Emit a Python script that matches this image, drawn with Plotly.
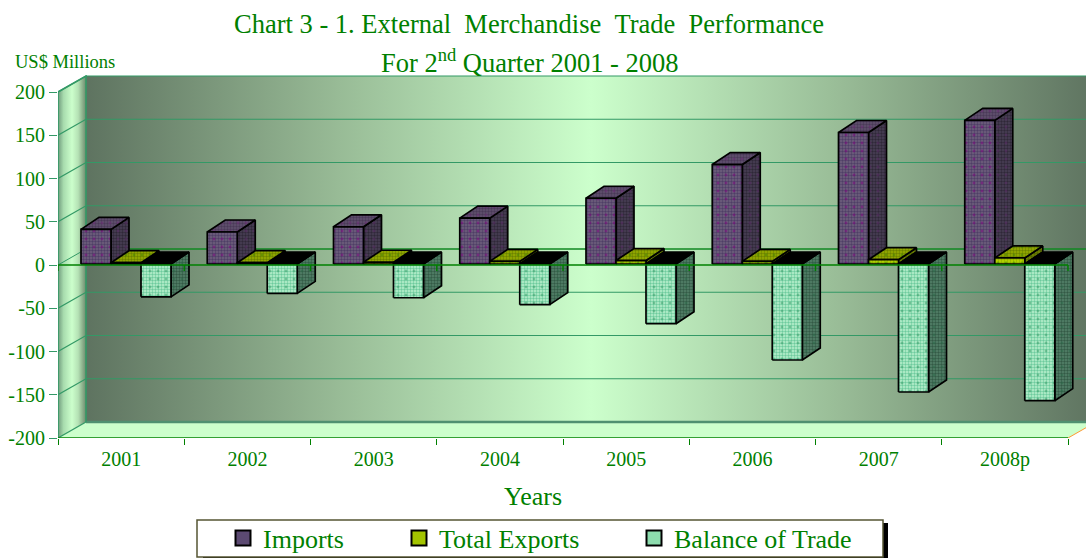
import plotly.graph_objects as go

# ---------- data ----------
years = ["2001", "2002", "2003", "2004", "2005", "2006", "2007", "2008p"]
imports = [40, 37, 43, 53, 76, 115, 152, 166]
total_exports = [1.5, 1.5, 2, 3, 4, 3, 5, 7]
balance = [-38, -34, -39, -47, -69, -111, -148, -158]
y_ticks = [-200, -150, -100, -50, 0, 50, 100, 150, 200]

# ---------- page geometry ----------
W, H = 1086, 558
LEFT, BOTTOM_PX, TOP_PX = 58, 438, 75
PX_PER_CAT = 126.25
PX_PER_UNIT = 0.865
XMAX = (W - LEFT) / PX_PER_CAT
YMAX = -200 + (BOTTOM_PX - TOP_PX) / PX_PER_UNIT
n = len(years)
PLOT_W, PLOT_H = W - LEFT, BOTTOM_PX - TOP_PX

def dx(px):
    return px / PX_PER_CAT

def dy(px):
    return px / PX_PER_UNIT

def paper_x(px):
    return (px - LEFT) / PLOT_W

def paper_y(py):
    return (BOTTOM_PX - py) / PLOT_H

WALL_DX, WALL_DY = dx(28), dy(16)
BAR_DX, BAR_DY = dx(18), dy(12)
BAR_W, BAR_OFF = dx(30), dx(23)
LIFT = dy(1)

GREEN = "#008000"
GRID = "#339966"

fig = go.Figure()

def poly(xs, ys, fill=None, line=None, lw=0, **kw):
    fig.add_trace(go.Scatter(
        x=list(xs) + [xs[0]], y=list(ys) + [ys[0]], mode="lines", fill="toself",
        fillcolor=fill if fill else "rgba(0,0,0,0)",
        line=dict(color=line or "rgba(0,0,0,0)", width=lw),
        hoverinfo="skip", showlegend=False, cliponaxis=False, **kw))

def seg(xs, ys, color, width):
    fig.add_trace(go.Scatter(x=xs, y=ys, mode="lines", line=dict(color=color, width=width),
                             hoverinfo="skip", showlegend=False, cliponaxis=False))

# ---------- walls ----------
dark = "#5e7360"
poly([WALL_DX, 8 + WALL_DX, 8 + WALL_DX, WALL_DX],
     [-200 + WALL_DY, -200 + WALL_DY, 200 + WALL_DY, 200 + WALL_DY],
     fillgradient=dict(type="horizontal",
                       colorscale=[[0, dark], [0.25, "#98bb96"], [0.5, "#ccffcc"], [0.75, "#98bb96"], [1, dark]]))
poly([0, WALL_DX, WALL_DX, 0], [-200, -200 + WALL_DY, 200 + WALL_DY, 200],
     fillgradient=dict(type="horizontal",
                       colorscale=[[0, "#6f9a7c"], [0.2, "#a8dcae"], [0.5, "#ccffcc"], [0.72, "#b5e2b5"], [1, "#6c8a6c"]]))
poly([0, 8, 8 + WALL_DX, WALL_DX], [-200, -200, -200 + WALL_DY, -200 + WALL_DY], fill="#ccffcc")

# gridlines on the side wall and back wall
for v in y_ticks:
    if v == 0:
        seg([0, WALL_DX, 8 + WALL_DX], [v, v + WALL_DY, v + WALL_DY], GRID, 1)
        seg([WALL_DX, 8 + WALL_DX], [v + WALL_DY, v + WALL_DY], GREEN, 1.2)
    elif v == -200:
        seg([0, WALL_DX], [v, v + WALL_DY], GRID, 1.2)
        seg([WALL_DX, 8 + WALL_DX], [v + WALL_DY, v + WALL_DY], "#4f9070", 2.5)
    else:
        seg([0, WALL_DX, 8 + WALL_DX], [v, v + WALL_DY, v + WALL_DY], GRID, 1.2)
seg([0, 0, WALL_DX, WALL_DX, WALL_DX], [-200, 200, 200 + WALL_DY, -200 + WALL_DY, 200 + WALL_DY], GRID, 1.6)
seg([8, 8 + WALL_DX], [-200, -200 + WALL_DY], "#ff9933", 1)

# ---------- 3-D columns ----------
def face(xs, ys, style):
    bg, dither, spot = style
    poly(xs, ys, fillpattern=dict(shape=".", bgcolor=bg, fgcolor=dither, size=3, solidity=0.5, fillmode="replace"))
    if spot:
        poly(xs, ys, line="#000000", lw=1.7,
             fillpattern=dict(shape=".", bgcolor="rgba(0,0,0,0)", fgcolor=spot, size=8, solidity=0.1, fillmode="overlay"))
    else:
        poly(xs, ys, line="#000000", lw=1.7)

STYLES = {
    "imports": dict(front=("#70617e", "#4f3f66", "#800080"),
                    top=("#625270", "#4a3a58", "#6d2a78"),
                    side=("#4a4056", "#2f2838", "#5a2a66")),
    "exports": dict(front=("#c0dc00", "#8fae00", "#3f8a00"),
                    top=("#99b000", "#6d8200", "#3f8000"),
                    side=("#748800", "#4f6000", "#3a6c00")),
    "balance": dict(front=("#bdf2d0", "#6ecb9e", "#339966"),
                    top=("#000000", "#000000", None),
                    side=("#55836b", "#345a46", "#2a6a48")),
}

def column(x0, v, style):
    x1 = x0 + BAR_W
    base = LIFT
    tip = v + LIFT
    lo, hi = min(base, tip), max(base, tip)
    face([x1, x1 + BAR_DX, x1 + BAR_DX, x1], [lo, lo + BAR_DY, hi + BAR_DY, hi], style["side"])
    face([x0, x1, x1 + BAR_DX, x0 + BAR_DX], [hi, hi, hi + BAR_DY, hi + BAR_DY], style["top"])
    face([x0, x1, x1, x0], [lo, lo, hi, hi], style["front"])

for i in range(n):
    x0 = i + BAR_OFF
    column(x0, imports[i], STYLES["imports"])
    column(x0 + BAR_W, total_exports[i], STYLES["exports"])
    column(x0 + 2 * BAR_W, balance[i], STYLES["balance"])

# ---------- front axis lines ----------
zero_x, zero_y = [0, 8, None], [0, 0, None]
for c in range(n + 1):
    zero_x += [c, c, None]
    zero_y += [0, -dy(6), None]
seg(zero_x, zero_y, GREEN, 1.4)
seg([0, 8], [-200, -200], GREEN, 1.6)

# ---------- legend swatches ----------
legend_items = ["Imports", "Total Exports", "Balance of Trade"]
swatch_fill = ["#5c4a72", "#a3c400", "#8ddcae"]
legend_names = ["legend", "legend2", "legend3"]
for name, col, lg in zip(legend_items, swatch_fill, legend_names):
    fig.add_trace(go.Scatter(x=[None], y=[None], mode="markers", name=name, legend=lg,
                             marker=dict(symbol="square", size=15, color=col,
                                         line=dict(color="#000000", width=2))))

def legend_at(px):
    return dict(x=paper_x(px), xanchor="left", y=paper_y(538), yanchor="middle",
                bgcolor="rgba(0,0,0,0)", itemsizing="trace",
                font=dict(family="Liberation Serif", size=26, color=GREEN))

# ---------- layout ----------
TITLE_FONT = dict(family="Liberation Serif", color=GREEN, size=26.5)
fig.update_layout(
    width=W, height=H, autosize=False,
    margin=dict(l=LEFT, r=0, t=TOP_PX, b=H - BOTTOM_PX, pad=0, autoexpand=False),
    paper_bgcolor="#ffffff", plot_bgcolor="#ffffff",
    title=dict(text="Chart 3 - 1. External\u00a0\u00a0Merchandise\u00a0\u00a0Trade\u00a0\u00a0Performance",
               x=529 / W, xanchor="center", y=1 - 24 / H, yanchor="middle", font=TITLE_FONT),
    xaxis=dict(range=[0, XMAX], tickmode="array", tickvals=[c + 0.5 for c in range(n)], ticktext=years,
               ticks="", showgrid=False, zeroline=False, showline=False, ticklabelstandoff=7,
               tickfont=dict(family="Liberation Serif", size=20, color=GREEN),
               minor=dict(tickmode="array", tickvals=list(range(n + 1)), ticks="outside",
                          ticklen=6, tickcolor=GREEN, tickwidth=1.4)),
    yaxis=dict(range=[-200, YMAX], tickmode="array", tickvals=y_ticks,
               ticktext=[str(v) for v in y_ticks], ticks="outside", ticklen=8, tickcolor=GRID, tickwidth=1.2,
               showgrid=False, zeroline=False, showline=False,
               tickfont=dict(family="Liberation Serif", size=20, color=GREEN)),
    legend=legend_at(223), legend2=legend_at(399), legend3=legend_at(634),
    annotations=[
        dict(text="For 2<sup>nd</sup> Quarter 2001 - 2008", xref="paper", yref="paper",
             x=paper_x(529), y=paper_y(61), yanchor="middle",
             xanchor="center", showarrow=False, font=TITLE_FONT),
        dict(text="US$ Millions", xref="paper", yref="paper",
             x=paper_x(13), y=paper_y(62), yanchor="middle",
             xanchor="left", showarrow=False,
             font=dict(family="Liberation Serif", size=18.5, color=GREEN)),
        dict(text="Years", xref="paper", yref="paper",
             x=paper_x(533), y=paper_y(496), yanchor="middle",
             xanchor="center", showarrow=False,
             font=dict(family="Liberation Serif", size=26, color=GREEN)),
    ],
    shapes=[
        dict(type="rect", xref="paper", yref="paper", layer="below", fillcolor="#000000", line_width=0,
             x0=paper_x(203), x1=paper_x(888), y0=paper_y(558), y1=paper_y(523)),
        dict(type="rect", xref="paper", yref="paper", layer="below", fillcolor="#ffffff",
             line=dict(color="#555533", width=1.5),
             x0=paper_x(197), x1=paper_x(883), y0=paper_y(557), y1=paper_y(520)),
    ],
)

fig.write_html("out.html", config=dict(displayModeBar=False),
               post_script="document.body.style.margin='0';document.body.style.overflow='hidden';")
